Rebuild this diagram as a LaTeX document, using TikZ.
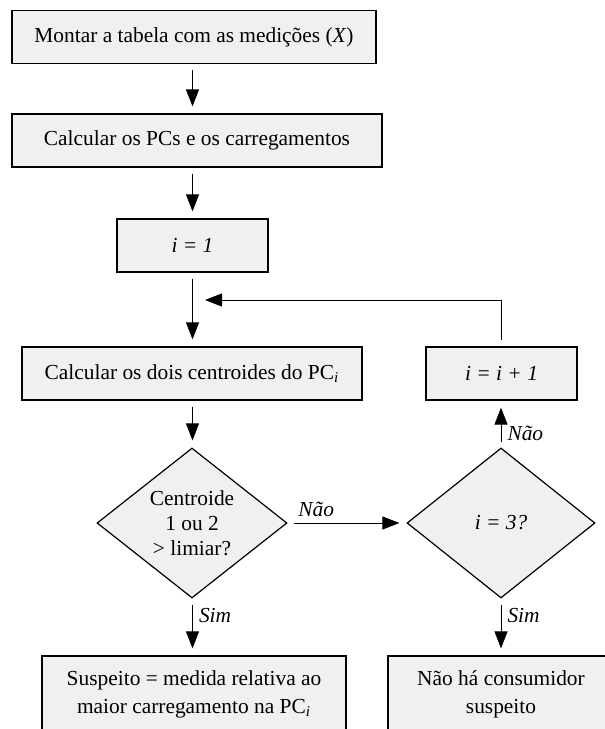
\documentclass[tikz,border=0pt]{standalone}
\usepackage{fontspec}
\setmainfont{Liberation Serif}
\usetikzlibrary{arrows.meta,shapes.geometric}
\definecolor{caixacinza}{RGB}{240,240,240}

\begin{document}
\begin{tikzpicture}[
        x=0.5pt,y=-0.5pt,
        >={Triangle[length=8.5pt,width=6.5pt]},
        font=\fontsize{10.7}{12.5}\selectfont,
        caixa/.style={rectangle,draw,line width=0.6pt,fill=caixacinza,minimum height=26.5pt,align=center,inner sep=2pt},
        losango/.style={diamond,draw,line width=0.6pt,fill=caixacinza,minimum width=95pt,minimum height=75pt,aspect=1.27,inner sep=0pt,align=center},
        seta/.style={->,line width=0.5pt,shorten <=3pt,shorten >=3.5pt},
        rotulo/.style={font=\fontsize{10.7}{12}\selectfont\itshape,inner sep=3pt},
    ]
    \useasboundingbox (0,0) rectangle (605,729);
    % coluna da esquerda
    \node[caixa,minimum width=182pt] (tabela) at (194,37) {Montar a tabela com as medições (\textit{X})};
    \node[caixa,minimum width=185pt] (pcs) at (197,140.5) {Calcular os PCs e os carregamentos};
    \node[caixa,minimum width=75.5pt] (inicio) at (192.5,245.5) {\textit{i = 1}};
    \node[caixa,minimum width=170pt] (centroides) at (192,373.5) {Calcular os dois centroides do PC\textsubscript{\textit{i}}};
    \node[losango] (decisao) at (192,523) {Centroide\\1 ou 2\\> limiar?};
    \node[caixa,minimum width=152pt,minimum height=38pt] (suspeito) at (194,694) {Suspeito = medida relativa ao\\[1.5pt]maior carregamento na PC\textsubscript{\textit{i}}};
    % coluna da direita
    \node[caixa,minimum width=75.5pt] (contador) at (501.5,373.5) {\textit{i = i + 1}};
    \node[losango,minimum width=94pt] (teste) at (501,523) {\textit{i = 3?}};
    \node[caixa,minimum width=113pt,minimum height=38pt] (nenhum) at (501,694) {Não há consumidor\\[1.5pt]suspeito};
    \coordinate (retorno) at (205,300);

    \draw[seta] (tabela.south -| inicio) -- (pcs.north -| inicio);
    \draw[seta] (pcs.south -| inicio) -- (inicio.north);
    \draw[seta] (inicio.south) -- (centroides.north -| inicio);
    \draw[seta] (centroides.south -| inicio) -- (decisao.north -| inicio);
    \draw[seta] (decisao.south -| inicio) -- node[rotulo,right,pos=0.3] {Sim} (suspeito.north -| inicio);
    \draw[seta] (decisao.east) -- node[rotulo,above,pos=0.24] {Não} (teste.west);
    \draw[seta,shorten <=2.5pt] (teste.north) -- node[rotulo,right,pos=0.3] {Não} (contador.south -| teste);
    \draw[seta] (teste.south) -- node[rotulo,right,pos=0.3] {Sim} (nenhum.north);
    \draw[seta,shorten >=0pt] (contador.north -| teste) |- (retorno);
\end{tikzpicture}
\end{document}
